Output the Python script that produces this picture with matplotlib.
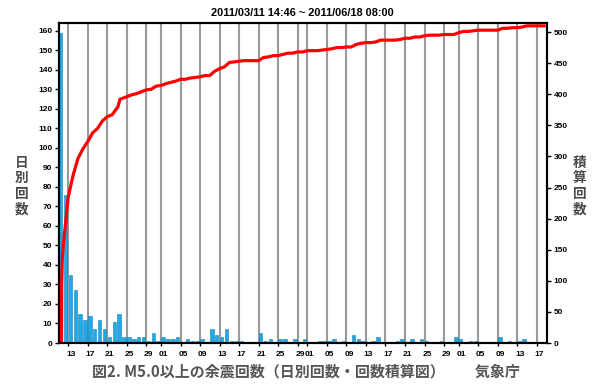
import numpy as np
import matplotlib
matplotlib.use('Agg')
import matplotlib.pyplot as plt

# ================= データ =================
# 日別回数 (2011/03/11 から 1 日ごと, 100 日分)
daily_counts = [
    159, 76, 35, 27, 15, 12, 14, 7, 12, 7,
    3, 11, 15, 3, 3, 2, 3, 3, 1, 5,
    1, 3, 2, 2, 3, 0, 2, 1, 1, 2,
    0, 7, 4, 3, 7, 1, 1, 1, 0, 0,
    0, 5, 1, 2, 0, 2, 2, 0, 2, 0,
    2, 0, 0, 1, 1, 1, 2, 0, 1, 0,
    4, 2, 1, 0, 1, 3, 0, 0, 0, 1,
    2, 0, 2, 0, 2, 1, 0, 0, 1, 0,
    0, 3, 2, 0, 1, 1, 0, 0, 0, 0,
    3, 0, 1, 0, 1, 2, 0, 0, 0, 0,
]

# 積算回数 (曲線から読み取り, 時刻は 03/11 00:00 からの日数)
cum_time = [0.61, 0.66, 0.78] + list(range(1, 13)) + [12.15, 12.6] \
    + list(range(13, 100)) + [99.6]
cum_count = [
    0, 96, 136,
    159, 235, 270, 297, 312, 324, 338, 345, 357, 364, 367, 378,
    379, 392,
    393, 396, 399, 401, 404, 407, 408, 413, 414, 417,
    419, 421, 424, 424, 426, 427, 428, 430, 430, 437,
    441, 444, 451, 452, 453, 454, 454, 454, 454, 459,
    460, 462, 462, 464, 466, 466, 468, 468, 470, 470,
    470, 471, 472, 473, 475, 475, 476, 476, 480, 482,
    483, 483, 484, 487, 487, 487, 487, 488, 490, 490,
    492, 492, 494, 495, 495, 495, 496, 496, 496, 499,
    501, 501, 502, 503, 503, 503, 503, 503, 506, 506,
    507, 507, 508, 510, 510, 510, 510,
    510,
]

# 目盛り (日付の位置 = 03/11 からの日数)
tick_days = [2, 6, 10, 14, 18, 21, 25, 29, 33, 37, 41, 45, 49,
             51, 55, 59, 63, 67, 71, 75, 79, 82, 86, 90, 94, 98]
tick_labels = ['13', '17', '21', '25', '29', '01', '05', '09', '13',
               '17', '21', '25', '29', '01', '05', '09', '13', '17',
               '21', '25', '29', '01', '05', '09', '13', '17']

title = '2011/03/11 14:46 ~ 2011/06/18 08:00'
caption = '図2. M5.0以上の余震回数（日別回数・回数積算図）　　気象庁'
left_label = '日別回数'
right_label = '積算回数'
# ===========================================

CJK = ['Noto Sans CJK JP', 'DejaVu Sans']
plt.rcParams['font.family'] = ['Liberation Sans', 'DejaVu Sans']

W, H = 600, 386
fig = plt.figure(figsize=(W / 100, H / 100), dpi=100)
ax = fig.add_axes([58.5 / W, 1 - 343 / H, 488 / W, 320.3 / H])
ax2 = ax.twinx()

days = np.arange(len(daily_counts))

# 縦の補助線
for d in tick_days:
    ax.axvline(d, color='#9a9a9a', lw=1.5, zorder=1)

# 日別回数 (棒)
ax.bar(days + 0.08, daily_counts, width=0.7, align='edge',
       color='#1eaae6', edgecolor='#1683bb', linewidth=0.4, zorder=2)

# 積算回数 (曲線)
ax2.plot(cum_time, cum_count, color='#ff0000', lw=2.3,
         solid_joinstyle='round', solid_capstyle='round')

ax.set_xlim(0, 100)
ax.set_ylim(0, 164.2)
ax2.set_ylim(0, 515)

ax.set_xticks(tick_days)
ax.set_xticklabels([])
ax.tick_params(axis='x', which='major', length=2.5, width=1, direction='out')
ax.set_xticks(np.array(tick_days) + 0.5, minor=True)
ax.set_xticklabels(tick_labels, minor=True)
ax.tick_params(axis='x', which='minor', length=0, pad=6, labelsize=6)

ax.set_yticks(range(0, 161, 10))
ax.tick_params(axis='y', length=3, width=1, pad=1.5, labelsize=6)
ax2.set_yticks(range(0, 501, 50))
ax2.tick_params(axis='y', length=3, width=1, pad=2, labelsize=6)

for lab in (ax.get_xticklabels(minor=True) + ax.get_yticklabels()
            + ax2.get_yticklabels()):
    lab.set_fontweight('bold')

for a in (ax, ax2):
    for s in a.spines.values():
        s.set_linewidth(1.5)

# タイトル・軸ラベル
fig.text(302.5 / W, 1 - 13 / H, title, ha='center', va='center',
         fontsize=7.9, fontweight='bold')

for i, ch in enumerate(left_label):
    fig.text(21.7 / W, 1 - (163 + 15.4 * i) / H, ch, ha='center',
             va='center', fontsize=9.8, fontweight='bold', color='#4a4a4a',
             family=CJK)
for i, ch in enumerate(right_label):
    fig.text(580 / W, 1 - (163 + 15.4 * i) / H, ch, ha='center',
             va='center', fontsize=9.8, fontweight='bold', color='#4a4a4a',
             family=CJK)

fig.text(91.7 / W, 1 - 372 / H, caption, ha='left', va='center',
         fontsize=10.8, fontweight='bold', color='#555555', family=CJK)

fig.savefig('out.png', dpi=100)
